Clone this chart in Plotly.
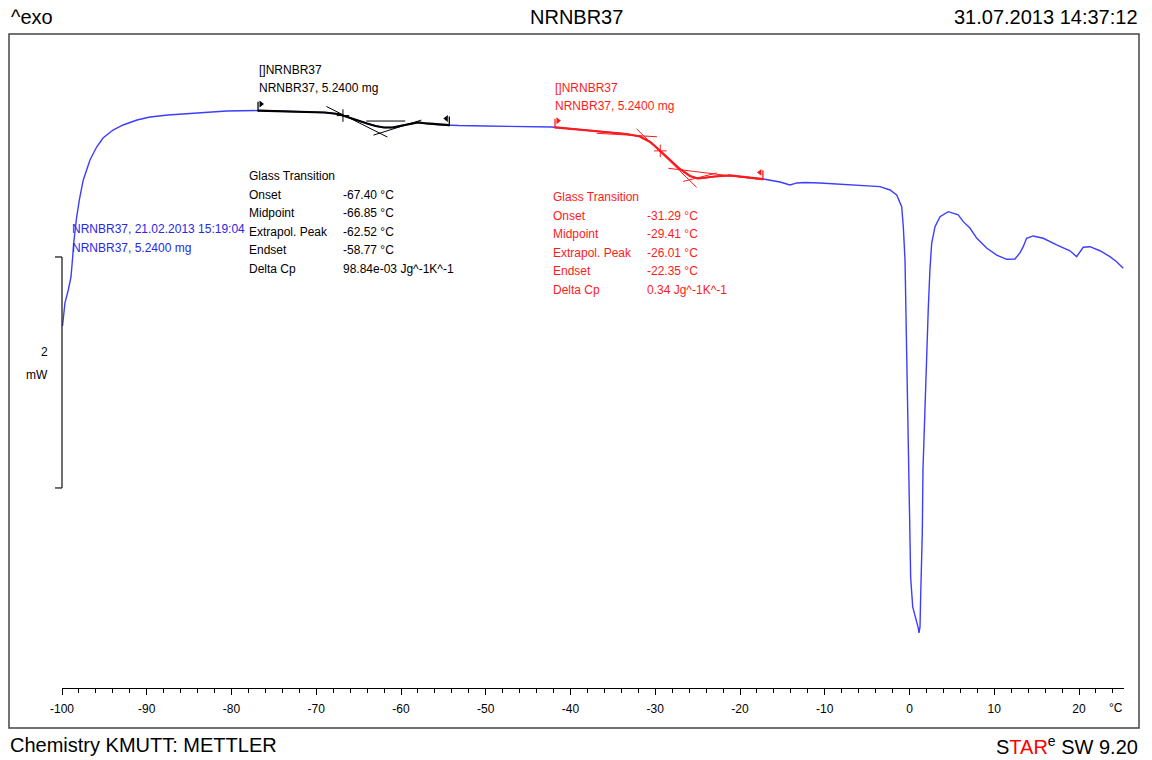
import numpy as np
import plotly.graph_objects as go

# ---------------------------------------------------------------------------
# DSC heating curve, sample NRNBR37 (5.2400 mg), exo up
# ---------------------------------------------------------------------------
temperature_c = [
    -99.94, -99.82, -99.65, -99.26, -98.94, -98.74, -98.58, -98.27, -97.96, -97.49,
    -96.70, -95.91, -95.16, -93.98, -92.80, -91.15, -89.62, -87.49, -84.11, -80.57,
    -76.87, -74.0, -71.0, -69.0, -67.4, -66.2, -65.0, -64.0, -63.0, -62.0,
    -61.0, -60.0, -59.0, -58.0, -57.0, -55.5, -54.0, -53.2, -50.0, -47.0,
    -44.0, -42.2, -39.0, -36.0, -33.4, -31.8, -30.6, -29.4, -28.3, -27.1,
    -25.9, -25.0, -24.4, -23.0, -21.2, -19.2, -17.25, -15.28, -14.10, -13.28,
    -12.33, -10.56, -8.20, -5.84, -3.48, -2.30, -1.51, -0.92, -0.73, -0.53,
    -0.42, -0.03, 0.14, 0.38, 0.65, 0.83, 1.03, 1.12, 1.24, 1.32,
    1.51, 1.59, 1.83, 2.06, 2.21, 2.41, 2.62, 3.01, 3.60, 4.57,
    5.75, 6.34, 7.13, 7.92, 9.10, 10.29, 11.47, 12.44, 13.03, 13.42,
    13.82, 14.60, 15.78, 17.36, 18.93, 19.72, 20.11, 20.50, 21.29, 22.47,
    23.65, 24.44, 25.22,
]
heat_flow_mw = [
    -3.019, -2.950, -2.820, -2.708, -2.595, -2.422, -2.275, -2.076, -1.929, -1.755,
    -1.582, -1.470, -1.392, -1.323, -1.279, -1.236, -1.210, -1.193, -1.173, -1.158,
    -1.154, -1.158, -1.164, -1.171, -1.184, -1.214, -1.245, -1.266, -1.288, -1.301,
    -1.301, -1.288, -1.271, -1.256, -1.266, -1.277, -1.281, -1.284, -1.288, -1.290,
    -1.295, -1.297, -1.318, -1.336, -1.357, -1.379, -1.426, -1.504, -1.582, -1.660,
    -1.721, -1.742, -1.738, -1.725, -1.716, -1.729, -1.747, -1.773, -1.799, -1.781,
    -1.777, -1.781, -1.790, -1.799, -1.813, -1.842, -1.885, -1.987, -2.160, -2.448,
    -2.881, -4.526, -5.201, -5.452, -5.522, -5.582, -5.634, -5.677, -5.626, -5.348,
    -4.812, -4.266, -3.660, -3.141, -2.881, -2.535, -2.301, -2.160, -2.073, -2.030,
    -2.058, -2.116, -2.171, -2.258, -2.344, -2.405, -2.442, -2.439, -2.387, -2.333,
    -2.260, -2.240, -2.260, -2.318, -2.368, -2.419, -2.376, -2.338, -2.333, -2.368,
    -2.419, -2.463, -2.520,
]

x_major_ticks = list(range(-100, 21, 10))
x_tick_labels = [str(v) for v in x_major_ticks]
x_range = [-100, 25.31]
y_range = [-6.154, -0.5]

# Glass transition evaluations: [onset, midpoint, extrapolated peak, endset] in °C
result_labels = ["Onset", "Midpoint", "Extrapol. Peak", "Endset", "Delta Cp"]

gt1_range = [-76.87, -54.3]
gt1_results = [-67.40, -66.85, -62.52, -58.77]
gt1_delta_cp = "98.84e-03 Jg^-1K^-1"
gt1_peak_hf = -1.350
# tangents: (slope mW/°C, from, to relative to extrapolated peak)
gt1_tangents = [(-0.0368, -6.28, 0.92), (0.0230, -0.73, 4.92), (0.0, -1.58, 3.02)]
gt1_tangent_shift = [0.0, 0.0, 0.105]

gt2_range = [-41.83, -17.3]
gt2_results = [-31.29, -29.41, -26.01, -22.35]
gt2_delta_cp = "0.34 Jg^-1K^-1"
gt2_peak_hf = -1.755
gt2_tangents = [(-0.0714, -6.19, 0.90), (0.0184, -0.69, 3.26)]
gt2_tangent_shift = [0.0, 0.0]
# extrapolated baselines before / after the step: (from °C, to °C, hf_from, hf_to)
gt2_baselines = [(-36.9, -29.8, -1.351, -1.381), (-28.46, -17.25, -1.654, -1.755)]

scale_bar_top = -2.422
scale_bar_mw = 2

BLUE = "#3d3dff"
RED = "#ff1a1a"
DARK = "#222222"
FONT = "Liberation Sans"

T = np.array(temperature_c)
H = np.array(heat_flow_mw)

# figure geometry (pixels)
W, HGT = 1152, 760
ML, MR, MT, MB = 62, 28, 35, 72
PW, PH = W - ML - MR, HGT - MT - MB


def px(x):
    return (x - ML) / PW


def py(y):
    return (HGT - MB - y) / PH


def segment(lo, hi):
    inside = (T > lo) & (T < hi)
    xs = np.concatenate([[lo], T[inside], [hi]])
    ys = np.interp(xs, T, H)
    return xs, ys


fig = go.Figure()

fig.add_trace(go.Scatter(x=T, y=H, mode="lines",
                         line=dict(color=BLUE, width=1.4), hoverinfo="skip"))


def add_evaluation(rng, results, peak_hf, tangents, shifts, color, baselines=()):
    xs, ys = segment(*rng)
    fig.add_trace(go.Scatter(x=xs, y=ys, mode="lines",
                             line=dict(color=color, width=2.2), hoverinfo="skip"))
    peak_t = results[2]
    for (slope, a, b), dy in zip(tangents, shifts):
        tx = [peak_t + a, peak_t + b]
        ty = [peak_hf + dy + slope * a, peak_hf + dy + slope * b]
        fig.add_trace(go.Scatter(x=tx, y=ty, mode="lines",
                                 line=dict(color=color, width=1), hoverinfo="skip"))
    for a, b, ha, hb in baselines:
        fig.add_trace(go.Scatter(x=[a, b], y=[ha, hb], mode="lines",
                                 line=dict(color=color, width=1), hoverinfo="skip"))
    # midpoint marker on the curve
    mid = results[1]
    fig.add_trace(go.Scatter(x=[mid], y=[float(np.interp(mid, T, H))], mode="markers",
                             marker=dict(symbol="cross-thin", size=9,
                                         line=dict(color=color, width=1)),
                             hoverinfo="skip"))
    # limit flags
    pole = 0.075
    for t, sym, dx in ((rng[0], "triangle-right", 0.35), (rng[1], "triangle-left", -0.35)):
        h = float(np.interp(t, T, H))
        fig.add_trace(go.Scatter(x=[t, t], y=[h - 0.01, h + pole], mode="lines",
                                 line=dict(color=color, width=1.3), hoverinfo="skip"))
        fig.add_trace(go.Scatter(x=[t + dx], y=[h + pole - 0.018], mode="markers",
                                 marker=dict(symbol=sym, size=6, color=color),
                                 hoverinfo="skip"))


add_evaluation(gt1_range, gt1_results, gt1_peak_hf, gt1_tangents, gt1_tangent_shift, "#000000")
add_evaluation(gt2_range, gt2_results, gt2_peak_hf, gt2_tangents, gt2_tangent_shift, RED,
               gt2_baselines)

annotations = []


def text(x, y, s, color="#000000", size=12, anchor="left", yanchor="middle"):
    annotations.append(dict(x=px(x), y=py(y), xref="paper", yref="paper", text=s,
                            showarrow=False, xanchor=anchor, yanchor=yanchor,
                            font=dict(family=FONT, size=size, color=color)))


# header and footer
text(9, 17, "^exo", size=20)
text(576, 17, "NRNBR37", size=20, anchor="center")
text(1140, 17, "31.07.2013 14:37:12", size=20, anchor="right")
text(8, 745, "Chemistry KMUTT: METTLER", size=20)
text(1140, 745, "S<span style='color:#ff0000'>TAR</span><sup>e</sup> SW 9.20",
     size=20, anchor="right")
text(1116, 708, "°C", size=12, anchor="center")

# curve identification
text(70, 229, "NRNBR37, 21.02.2013 15:19:04", color="#2828e6")
text(70, 248, "NRNBR37, 5.2400 mg", color="#2828e6")


def result_block(x_lab, x_val, y_top, results, delta_cp, color):
    text(x_lab, y_top, "Glass Transition", color=color)
    vals = [f"{v:.2f} °C" for v in results] + [delta_cp]
    for i, (lab, val) in enumerate(zip(result_labels, vals)):
        yy = y_top + 18.6 * (i + 1)
        text(x_lab, yy, lab, color=color)
        text(x_val, yy, val, color=color)


text(257, 70, "[]NRNBR37")
text(257, 88, "NRNBR37, 5.2400 mg")
result_block(247, 341, 176, gt1_results, gt1_delta_cp, "#000000")

text(553, 88, "[]NRNBR37", color=RED)
text(553, 106, "NRNBR37, 5.2400 mg", color=RED)
result_block(551, 645, 197, gt2_results, gt2_delta_cp, RED)

# scale bar (2 mW)
yb0 = (scale_bar_top - scale_bar_mw - y_range[0]) / (y_range[1] - y_range[0])
yb1 = (scale_bar_top - y_range[0]) / (y_range[1] - y_range[0])
hook = px(55)
shapes = [
    dict(type="line", xref="paper", yref="paper", x0=0, x1=0, y0=yb0, y1=yb1,
         line=dict(color=DARK, width=1.3)),
    dict(type="line", xref="paper", yref="paper", x0=hook, x1=0, y0=yb1, y1=yb1,
         line=dict(color=DARK, width=1.3)),
    dict(type="line", xref="paper", yref="paper", x0=hook, x1=0, y0=yb0, y1=yb0,
         line=dict(color=DARK, width=1.3)),
    # outer frame
    dict(type="rect", xref="paper", yref="paper", x0=px(9), x1=px(1139),
         y0=py(728), y1=py(34), line=dict(color="#444444", width=1.5)),
]
ymid_px = HGT - MB - (yb0 + yb1) / 2 * PH
text(50, ymid_px - 20, str(scale_bar_mw), anchor="right")
text(37, ymid_px + 3, "mW", anchor="center")

fig.update_layout(
    width=W, height=HGT,
    margin=dict(l=ML, r=MR, t=MT, b=MB),
    paper_bgcolor="white", plot_bgcolor="white",
    showlegend=False,
    annotations=annotations,
    shapes=shapes,
    xaxis=dict(range=x_range, tickvals=x_major_ticks, ticktext=x_tick_labels,
               ticks="outside", ticklen=6,
               tickcolor="#000000", tickwidth=1, showgrid=False, zeroline=False,
               showline=True, linecolor="#000000", linewidth=1,
               tickfont=dict(family=FONT, size=12, color="#000000"),
               ticklabelstandoff=4,
               minor=dict(tick0=-100, dtick=2, ticks="outside", ticklen=3.5,
                          tickcolor="#000000", showgrid=False)),
    yaxis=dict(range=y_range, visible=False, showgrid=False, zeroline=False),
)

fig.write_html("out.html")
